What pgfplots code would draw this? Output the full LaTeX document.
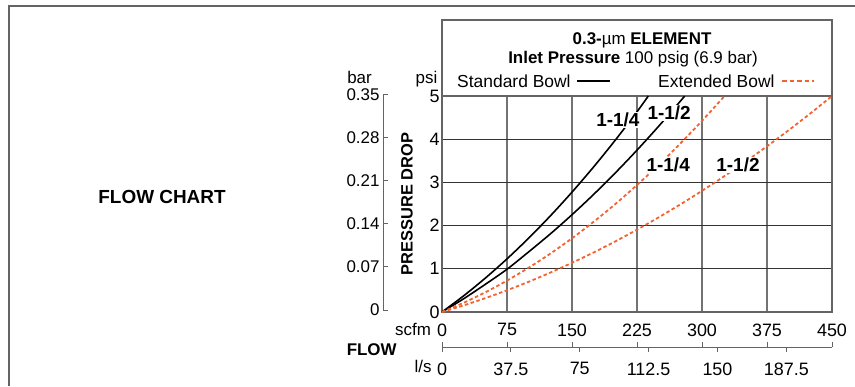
\documentclass[border=0pt]{standalone}
\usepackage{pgfplots}
\pgfplotsset{compat=1.18}
\usepackage{fontspec}
\setmainfont{Liberation Sans}
\definecolor{ext}{RGB}{240,100,52}
\definecolor{frame}{RGB}{100,100,100}
\newcommand{\fs}[1]{\fontsize{#1}{#1}\selectfont}
\begin{document}
\begin{tikzpicture}[x=1bp,y=1bp]
\useasboundingbox (0,0) rectangle (855,386);
% outer frame
\draw[frame, line width=1.2bp] (9,0) -- (9,380) -- (855,380);
\node at (162,189) {\fs{19}\bfseries FLOW CHART};
% header box
\draw[frame, line width=1.2bp] (442,74) rectangle (832,366);
\node at (642,346) {\fs{17}\textbf{0.3-}µm \textbf{ELEMENT}};
\node at (633,327) {\fs{17}\textbf{Inlet Pressure} 100 psig (6.9 bar)};
\node[anchor=west, inner sep=0] at (457,305) {\fs{17.5}Standard Bowl};
\draw[black, line width=1.6bp] (577,305) -- (610,305);
\node[anchor=west, inner sep=0] at (658,305) {\fs{17.5}Extended Bowl};
\draw[ext, line width=1.6bp, dash pattern=on 4.5bp off 3bp] (782,305) -- (814,305);
% labels
\node at (359.5,308.5) {\fs{17}bar};
\node at (426.5,306.5) {\fs{17}psi};
\node[rotate=90] at (407,182) {\fs{16.5}\bfseries PRESSURE DROP};
\node at (413,57) {\fs{17}scfm};
\node at (371.7,36.5) {\fs{17}\bfseries FLOW};
\node at (423,20) {\fs{17}l/s};
% main axis
\begin{axis}[at={(442bp,74bp)}, anchor=south west, scale only axis,
  width=390bp, height=216bp,
  xmin=0, xmax=450, ymin=0, ymax=5,
  xtick={0,75,...,450}, ytick={0,1,...,5},
  grid=major, major tick length=0pt,
  axis line style={frame, line width=1.2bp},
  x grid style={black!55, line width=1.2bp},
  y grid style={black!80, line width=1bp},
  /pgf/number format/assume math mode=true,
  tick label style={font=\fs{18}},
  xticklabel style={yshift=-8bp},
  yticklabel style={xshift=1bp},
  clip=false]
\addplot[black, line width=1.6bp, smooth] coordinates {
 (0,0) (25,0.375) (50,0.785) (75,1.23) (100,1.71) (125,2.225) (150,2.775)
 (175,3.36) (200,3.98) (225,4.635) (238,5.0)};
\addplot[black, line width=1.6bp, smooth] coordinates {
 (0,0) (25,0.307) (50,0.641) (75,0.99) (100,1.392) (125,1.808) (150,2.252)
 (175,2.723) (200,3.221) (225,3.747) (250,4.30) (275,4.88) (280,5.0)};
\addplot[ext, line width=1.8bp, dash pattern=on 3.5bp off 2.5bp, smooth] coordinates {
 (0,0) (25,0.214) (50,0.456) (75,0.727) (100,1.025) (125,1.352) (150,1.706)
 (175,2.089) (200,2.5) (225,2.94) (250,3.406) (275,3.902) (300,4.425) (326,5.0)};
\addplot[ext, line width=1.8bp, dash pattern=on 3.5bp off 2.5bp, smooth] coordinates {
 (0,0) (25,0.153) (50,0.321) (75,0.503) (100,0.70) (125,0.912) (150,1.139)
 (175,1.379) (200,1.635) (225,1.906) (250,2.191) (275,2.491) (300,2.805)
 (325,3.134) (350,3.478) (375,3.837) (400,4.209) (425,4.597) (450,5.0)};
\node[fill=white, inner sep=1bp] at (axis cs:203,4.44) {\fs{19}\bfseries 1-1/4};
\node[fill=white, inner sep=1bp] at (axis cs:262,4.61) {\fs{19}\bfseries 1-1/2};
\node[fill=white, inner sep=1bp] at (axis cs:261,3.40) {\fs{19}\bfseries 1-1/4};
\node[fill=white, inner sep=1bp] at (axis cs:341.5,3.40) {\fs{19}\bfseries 1-1/2};
\end{axis}
% bar axis
\begin{axis}[at={(383bp,76bp)}, anchor=south west, scale only axis,
  width=5bp, height=215.7bp,
  xmin=0, xmax=1, ymin=0, ymax=0.35,
  axis x line=none, axis y line=left, axis line style={-, frame, line width=1bp},
  ytick={0,0.07,0.14,0.21,0.28,0.35},
  yticklabels={0,0.07,0.14,0.21,0.28,0.35},
  tick align=inside, major tick length=5bp,
  tick style={frame, line width=1bp},
  /pgf/number format/assume math mode=true,
  yticklabel style={font=\fs{17}}]
\end{axis}
% flow axis: scfm ticks up
\begin{axis}[at={(442bp,39bp)}, anchor=south west, scale only axis,
  width=390bp, height=5bp,
  xmin=0, xmax=450, ymin=0, ymax=1,
  axis y line=none, axis x line=bottom, axis line style={-, frame, line width=1bp},
  xtick={0,75,...,450}, xticklabels={},
  tick align=inside, major tick length=5bp,
  tick style={frame, line width=1bp}]
\end{axis}
% flow axis: l/s ticks down
\begin{axis}[at={(442bp,39bp)}, anchor=south west, scale only axis,
  width=390bp, height=5bp,
  xmin=0, xmax=450, ymin=0, ymax=1,
  axis y line=none, axis x line=bottom, axis line style={-, frame, line width=1bp},
  xtick={0,79.46,158.92,238.38,317.83,397.29},
  xticklabels={0,37.5,75,112.5,150,187.5},
  tick align=outside, major tick length=5bp,
  tick style={frame, line width=1bp},
  /pgf/number format/assume math mode=true,
  xticklabel style={font=\fs{18}, yshift=-7bp}]
\end{axis}
\end{tikzpicture}
\end{document}
